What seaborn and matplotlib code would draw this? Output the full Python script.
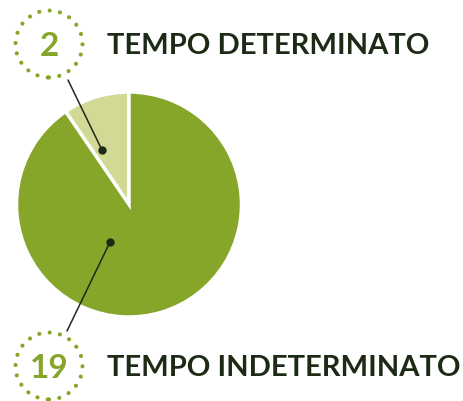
import numpy as np
import matplotlib
matplotlib.use("Agg")
import matplotlib.pyplot as plt
from matplotlib.patches import Circle
import seaborn as sns

# dati
categorie = ["TEMPO DETERMINATO", "TEMPO INDETERMINATO"]
valori = [2, 19]

sns.set_style("white")
plt.rcParams['font.family'] = ['Lato', 'DejaVu Sans']

colori = ["#d1d994", "#86a62a"]
verde = "#86a62a"
scuro = "#1c2a16"

W, H = 463, 401
fig = plt.figure(figsize=(W / 100, H / 100), dpi=100)
ax = fig.add_axes([0, 0, 1, 1])

centro = (129, H - 204.5)
raggio = 112.5
wedges, _ = ax.pie(valori, colors=colori, startangle=90, counterclock=True,
                   center=centro, radius=raggio,
                   wedgeprops=dict(edgecolor="white", linewidth=2.5))

ax.set_xlim(0, W)
ax.set_ylim(0, H)
ax.set_aspect("equal")
ax.axis("off")

# posizione dei punti di ancoraggio (frazione dell'angolo, frazione del raggio)
ancore = [(0.77, 0.54), (0.365, 0.375)]
etichette_y = [44, 366]
cerchi_x = 49
partenze = [(68, 80), (67, 331)]

for w, (fa, fr), ly, (px, py), cat, val in zip(wedges, ancore, etichette_y,
                                                partenze, categorie, valori):
    th = np.deg2rad(w.theta1 + fa * (w.theta2 - w.theta1))
    ax_x = centro[0] + fr * raggio * np.cos(th)
    ax_y = centro[1] + fr * raggio * np.sin(th)
    ax.plot([px, ax_x], [H - py, ax_y], color=scuro, lw=1.1, zorder=5)
    ax.plot(ax_x, ax_y, "o", color=scuro, ms=5, zorder=6)

    ax.add_patch(Circle((cerchi_x, H - ly), 33.5, fill=False, edgecolor=verde,
                        lw=3.0, linestyle=(0, (0.01, 2.5)), capstyle="round"))
    ax.text(cerchi_x, H - ly, str(val), color=verde, fontsize=24,
            fontweight="bold", ha="center", va="center_baseline")
    ax.text(107, H - ly, cat, color=scuro, fontsize=21, fontweight="bold",
            ha="left", va="center_baseline")

fig.savefig("out.png", dpi=100)
